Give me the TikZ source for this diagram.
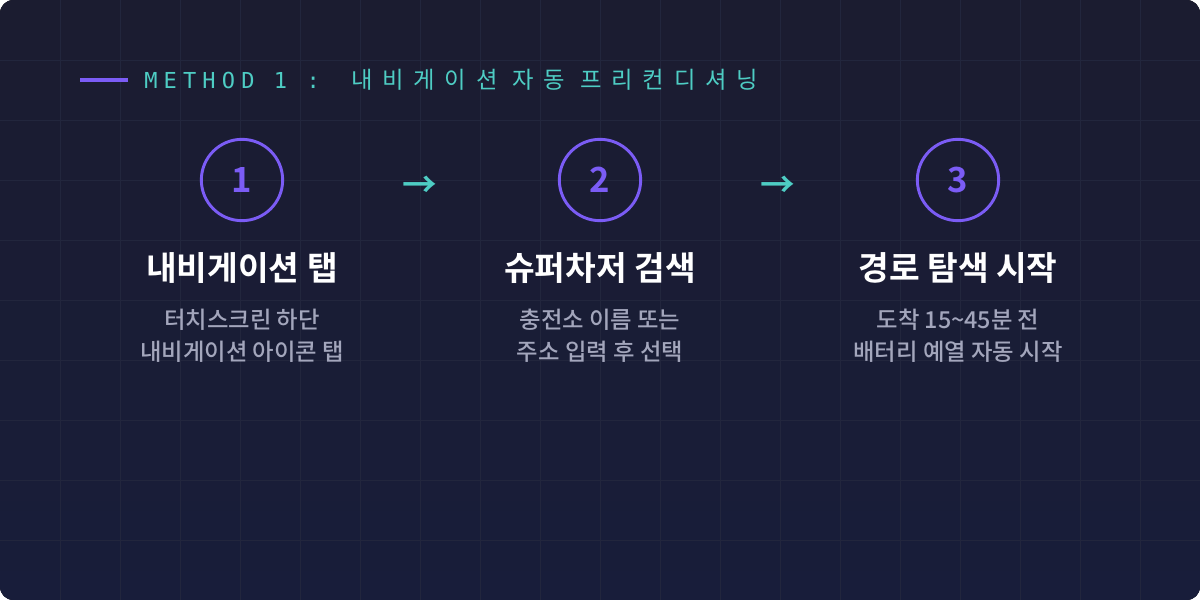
\documentclass[tikz,border=0pt]{standalone}
\usepackage{fontspec}
\setmainfont{Noto Sans CJK KR}
\newfontfamily\kr{Noto Sans CJK KR Medium}
\newfontfamily\krb{Noto Sans CJK KR Bold}
\newfontfamily\mono[LetterSpace=28]{DejaVu Sans Mono}
\newfontfamily\monokr[LetterSpace=42]{Noto Sans CJK KR}
\definecolor{bgA}{HTML}{1B1C30}
\definecolor{bgB}{HTML}{181D3A}
\definecolor{gridc}{HTML}{22263D}
\definecolor{purp}{HTML}{7B5CF5}
\definecolor{teal}{HTML}{4ECDC4}
\definecolor{subc}{HTML}{A3A6BC}
\begin{document}
\begin{tikzpicture}[x=0.75pt,y=-0.75pt,
  stepcirc/.style={circle,draw=purp,line width=2.2pt,minimum size=61pt,inner sep=0,text=purp,font=\krb\fontsize{26}{26}\selectfont},
  head/.style={text=white,font=\krb\fontsize{25}{28}\selectfont,anchor=center},
  sub/.style={text=subc,font=\kr\fontsize{17.5}{24}\selectfont,align=center},
  arr/.style={text=teal,font=\krb\fontsize{26}{26}\selectfont}]
\useasboundingbox (0,0) rectangle (1200,600);
\fill[top color=bgA,bottom color=bgB,rounded corners=10pt] (0,0) rectangle (1200,600);
\foreach \x in {60,120,...,1140} \draw[gridc,line width=0.5pt] (\x,0) -- (\x,600);
\foreach \y in {60,120,...,540} \draw[gridc,line width=0.5pt] (0,\y) -- (1200,\y);
\coordinate (l1) at (80,80); \coordinate (l2) at (128,80);
\draw[purp,line width=2.8pt] (l1) -- (l2);
\node[anchor=west,text=teal,inner sep=0] (title) at (144,80) {\mono\fontsize{16.5}{16}\selectfont METHOD 1 :\hspace{4pt} \monokr\fontsize{17.5}{16}\selectfont 내비게이션 자동 프리컨디셔닝};
\node[stepcirc] (c1) at (242,180) {1};
\node[stepcirc] (c2) at (600,180) {2};
\node[stepcirc] (c3) at (958,180) {3};
\node[arr] (a1) at (420,187) {→};
\node[arr] (a2) at (778,187) {→};
\node[head] (h1) at (242,268) {내비게이션 탭};
\node[head] (h2) at (600,268) {슈퍼차저 검색};
\node[head] (h3) at (958,268) {경로 탐색 시작};
\node[sub] (s1) at (242,336) {터치스크린 하단\\내비게이션 아이콘 탭};
\node[sub] (s2) at (600,336) {충전소 이름 또는\\주소 입력 후 선택};
\node[sub] (s3) at (958,336) {도착 15\textasciitilde45분 전\\배터리 예열 자동 시작};
\end{tikzpicture}
\end{document}
